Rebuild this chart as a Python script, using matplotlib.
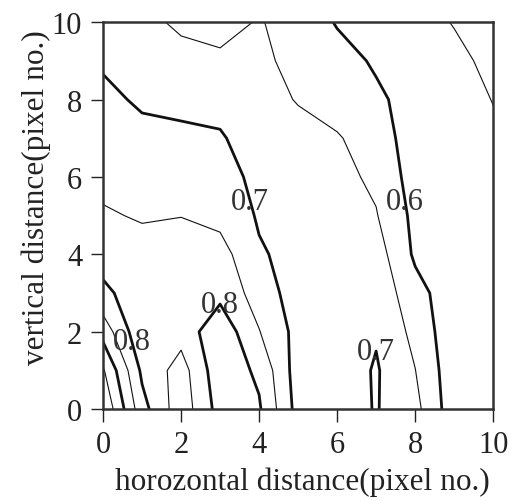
import numpy as np
import matplotlib
matplotlib.use('Agg')
import matplotlib.pyplot as plt

plt.rcParams['font.family'] = ['Liberation Serif', 'DejaVu Serif']

# grid coordinates (pixel no.)
xs = [0, 1, 2, 3, 4, 5, 6, 7, 8, 9, 10]
ys = [0, 1, 2, 3, 4, 5, 6, 7, 8, 9, 10]

# values, one row per vertical position (y = 0 .. 10)
z_rows = [
    [0.996, 0.818, 0.720, 0.820, 0.806, 0.681, 0.675, 0.703, 0.665, 0.570, 0.565],
    [0.956, 0.790, 0.728, 0.834, 0.790, 0.675, 0.670, 0.705, 0.651, 0.568, 0.560],
    [0.880, 0.760, 0.770, 0.835, 0.752, 0.683, 0.675, 0.695, 0.636, 0.565, 0.560],
    [0.810, 0.775, 0.780, 0.786, 0.728, 0.675, 0.670, 0.685, 0.618, 0.570, 0.565],
    [0.781, 0.770, 0.772, 0.770, 0.705, 0.685, 0.680, 0.673, 0.592, 0.570, 0.565],
    [0.756, 0.745, 0.749, 0.735, 0.695, 0.685, 0.675, 0.653, 0.587, 0.570, 0.565],
    [0.735, 0.730, 0.725, 0.712, 0.692, 0.680, 0.665, 0.640, 0.578, 0.565, 0.560],
    [0.720, 0.715, 0.712, 0.703, 0.685, 0.672, 0.655, 0.622, 0.578, 0.565, 0.556],
    [0.713, 0.692, 0.685, 0.690, 0.675, 0.646, 0.625, 0.607, 0.585, 0.565, 0.549],
    [0.693, 0.682, 0.668, 0.660, 0.660, 0.636, 0.615, 0.595, 0.575, 0.560, 0.540],
    [0.680, 0.665, 0.640, 0.630, 0.654, 0.626, 0.597, 0.585, 0.565, 0.548, 0.530],
]

thin_levels = [0.55, 0.65, 0.75, 0.85, 0.95]
thick_levels = [0.9]
label_levels = [0.6, 0.7, 0.8]
label_spots = [(3.72, 5.35), (7.7, 5.35), (2.82, 2.85), (0.72, 1.75), (7.0, 1.55)]

Z = np.array(z_rows)
X, Y = np.meshgrid(xs, ys)

fig = plt.figure(figsize=(5.18, 5.02), dpi=100)
ax = fig.add_axes([0.199, 0.183, 0.753, 0.771])

ax.contour(X, Y, Z, levels=thin_levels, colors='#111111', linewidths=0.8)
ax.contour(X, Y, Z, levels=thick_levels, colors='#111111', linewidths=2.0)
cs = ax.contour(X, Y, Z, levels=label_levels, colors='#111111', linewidths=2.0)

labs = ax.clabel(cs, inline=False, fontsize=22, colors='#333333',
                 fmt='%.1f', manual=label_spots)
for t in labs:
    t.set_rotation(0)

ax.set_xlim(0, 10)
ax.set_ylim(0, 10)
ax.set_xticks([0, 2, 4, 6, 8, 10])
ax.set_yticks([0, 2, 4, 6, 8, 10])
ax.tick_params(direction='out', length=9, width=1.0, labelsize=22,
               colors='#222222', pad=6)
for s in ax.spines.values():
    s.set_linewidth(1.8)
    s.set_color('#333333')

ax.set_xlabel('horozontal distance(pixel no.)', fontsize=22.5, color='#222222')
ax.set_ylabel('vertical distance(pixel no.)', fontsize=22.5, color='#222222')
ax.xaxis.set_label_coords(0.51, -0.148)
ax.yaxis.set_label_coords(-0.133, 0.55)

fig.savefig('out.png', dpi=100)
